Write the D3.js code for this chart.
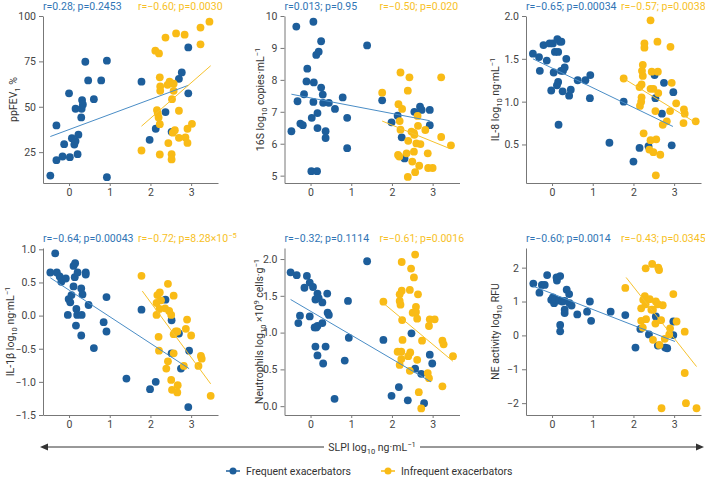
<!DOCTYPE html>
<html>
<head>
<meta charset="utf-8">
<script src="https://cdn.jsdelivr.net/npm/d3@7"></script>
<style>
  body { margin: 0; background: #fff; }
  svg { display: block; font-family: Roboto, "Noto Sans", sans-serif; }
</style>
</head>
<body>
<div id="container"></div>
<script>
// values, x = SLPI log10 ng/mL

const groups = ["Frequent exacerbators", "Infrequent exacerbators"]

const fevFreq = [[-0.46,12.1],[-0.31,20.6],[-0.31,39.7],[-0.16,22.6],[-0.12,29.4],[0,57.4],[0.02,22.2],[0.07,32.7],[0.13,29.2],[0.16,31.1],[0.16,48.9],[0.21,23.9],[0.23,34.6],[0.30,44.1],[0.31,48.9],[0.32,53.7],[0.34,51.3],[0.40,74.8],[0.47,64.5],[0.61,54.2],[0.79,64.5],[0.93,11.2],[0.93,75.4],[1.78,63.8],[1.98,31.8],[2.13,37.9],[2.37,47.1],[2.52,36.2],[2.70,65.4],[2.77,68.9],[2.93,82.7],[2.93,57.4]]
const fevInfreq = [[1.78,25.9],[2.12,80.9],[2.21,79.4],[2.16,48.2],[2.18,46.3],[2.20,44.1],[2.23,40.4],[2.23,66.2],[2.24,61.2],[2.24,58.8],[2.23,23.7],[2.37,88.1],[2.42,62.1],[2.47,63.8],[2.44,30.0],[2.57,62.7],[2.57,58.8],[2.53,54.2],[2.52,23.9],[2.52,21.0],[2.55,35.7],[2.60,37.1],[2.63,90.4],[2.70,47.8],[2.70,32.9],[2.84,89.7],[2.86,33.1],[2.91,37.9],[2.91,30.1],[3.02,40.6],[3.23,93.6],[3.23,84.4],[3.45,96.9]]
const fevFit = [[[-0.46,33.6],[2.93,61.8]], [[1.78,39.3],[3.48,72.6]]]

const s16Freq = [[-0.47,6.39],[-0.35,9.67],[-0.32,7.33],[-0.25,6.63],[-0.19,6.58],[-0.16,7.55],[-0.08,8.35],[-0.10,7.95],[0.03,6.81],[0.07,9.82],[0.08,7.92],[0.07,7.31],[0.02,5.14],[0.16,5.14],[0.14,8.78],[0.20,8.88],[0.17,6.96],[0.17,6.49],[0.26,9.21],[0.26,7.76],[0.30,7.54],[0.31,7.28],[0.37,6.39],[0.37,6.18],[0.45,7.28],[0.60,7.09],[0.79,7.45],[0.90,6.81],[0.90,5.86],[1.39,9.08],[1.76,7.36],[1.99,6.67],[2.14,6.88],[2.31,5.54],[2.24,6.20],[2.55,7.00],[2.69,7.16],[2.73,7.06],[2.93,7.06],[2.93,6.58]]
const s16Infreq = [[1.76,7.60],[2.21,8.23],[2.43,8.08],[2.39,7.66],[2.16,7.24],[2.25,7.09],[2.19,6.71],[2.21,6.44],[2.15,5.65],[2.18,5.60],[2.36,5.70],[2.40,6.09],[2.48,6.38],[2.54,6.34],[2.55,6.28],[2.63,6.87],[2.64,6.56],[2.60,6.01],[2.70,5.99],[2.54,5.75],[2.50,5.44],[2.57,5.11],[2.39,4.96],[2.67,5.31],[2.82,6.43],[2.88,5.70],[2.89,5.24],[3.00,5.24],[3.21,8.08],[3.21,6.21],[3.45,5.95]]
const s16Fit = [[[-0.47,7.55],[2.93,6.72]], [[1.76,6.71],[3.40,5.86]]]

const il8Freq = [[-0.47,1.56],[-0.32,1.52],[-0.30,1.36],[-0.21,1.66],[-0.13,1.48],[-0.06,1.68],[0.02,1.68],[-0.02,1.13],[0.04,1.34],[0.07,1.58],[0.13,1.73],[0.15,1.58],[0.20,1.70],[0.23,1.70],[0.15,1.23],[0.12,1.19],[0.16,0.73],[0.22,1.36],[0.27,1.36],[0.26,1.12],[0.31,1.40],[0.35,1.50],[0.42,1.07],[0.46,1.14],[0.63,1.25],[0.82,1.25],[0.94,1.31],[0.93,1.04],[1.41,0.52],[1.76,1.00],[2.00,0.30],[2.15,0.46],[2.37,0.48],[2.52,1.31],[2.54,1.04],[2.75,1.22],[2.70,0.86],[2.98,1.11],[2.94,0.49]]
const il8Infreq = [[1.76,1.27],[2.42,1.95],[2.27,1.68],[2.27,1.63],[2.59,1.70],[2.91,1.64],[2.23,1.43],[2.21,1.36],[2.23,1.30],[2.45,1.35],[2.60,1.35],[2.15,1.17],[2.20,1.20],[2.20,1.05],[2.19,1.00],[2.16,0.95],[2.42,1.15],[2.49,1.15],[2.61,1.10],[2.94,1.22],[2.54,0.89],[2.90,0.89],[3.05,0.98],[3.24,0.91],[3.26,0.86],[3.23,0.75],[3.53,0.77],[2.72,0.73],[2.82,0.77],[2.25,0.63],[2.42,0.55],[2.56,0.56],[2.39,0.44],[2.49,0.41],[2.66,0.38],[2.55,0.14]]
const il8Fit = [[[-0.47,1.50],[2.97,0.71]], [[1.76,1.27],[3.51,0.76]]]

const il1Freq = [[-0.46,0.65],[-0.34,0.94],[-0.30,0.65],[-0.23,0.59],[-0.19,0.51],[-0.08,0.56],[-0.03,0.01],[-0.01,0.25],[0.03,0.20],[0.06,0.31],[0.11,0.44],[0.11,0.75],[0.15,0.79],[0.14,0.58],[0.18,0.10],[0.20,0.01],[0.17,-0.15],[0.21,0.65],[0.30,0.41],[0.33,0.32],[0.31,0.01],[0.30,-0.30],[0.41,0.65],[0.41,0.62],[0.48,0.16],[0.61,-0.49],[0.85,-0.10],[0.92,0.28],[0.92,-0.24],[1.41,-0.95],[1.78,0.09],[1.99,-1.11],[2.13,-1.00],[2.37,0.24],[2.52,-0.07],[2.52,-0.57],[2.70,-0.27],[2.75,-0.80],[2.95,-0.53],[2.93,-1.38]]
const il1Infreq = [[1.78,0.60],[2.17,0.31],[2.23,0.35],[2.15,0.19],[2.26,0.23],[2.15,0.01],[2.22,0.10],[2.36,0.11],[2.43,0.48],[2.46,0.07],[2.51,0.01],[2.57,0.30],[2.20,-0.32],[2.21,-0.53],[2.43,-0.69],[2.39,-0.80],[2.51,-0.97],[2.53,-1.12],[2.57,-0.57],[2.57,-0.28],[2.62,-0.24],[2.66,-0.24],[2.67,-1.05],[2.66,-1.16],[2.87,-0.20],[2.90,-0.06],[3.00,-0.30],[2.82,-0.76],[3.18,-0.76],[3.24,-0.61],[3.26,-0.65],[3.48,-1.21]]
const il1Fit = [[[-0.46,0.57],[2.95,-0.80]], [[1.80,0.37],[3.48,-1.03]]]

const neuFreq = [[-0.49,1.82],[-0.34,1.78],[-0.26,1.23],[-0.30,1.13],[-0.15,1.61],[-0.09,1.77],[-0.02,1.68],[-0.02,1.22],[0.06,1.62],[0.10,1.07],[0.14,1.07],[0.17,1.09],[0.12,1.45],[0.17,1.53],[0.20,1.47],[0.12,0.81],[0.17,0.69],[0.29,1.41],[0.29,1.13],[0.31,0.58],[0.41,1.53],[0.42,1.27],[0.45,1.24],[0.37,0.81],[0.59,0.10],[0.84,0.62],[0.92,1.43],[0.94,0.93],[1.39,1.97],[1.79,0.90],[1.99,0.14],[2.17,0.26],[2.39,0.08],[2.48,0.99],[2.57,0.51],[2.72,0.44],[2.79,0.04],[2.93,0.70],[2.99,0.58]]
const neuInfreq = [[1.79,1.42],[2.24,1.96],[2.47,1.87],[2.57,2.06],[2.54,1.75],[2.24,1.57],[2.19,1.52],[2.44,1.58],[2.64,1.52],[2.19,1.43],[2.21,1.38],[2.59,1.35],[2.51,1.27],[2.59,1.28],[2.25,1.17],[2.62,1.19],[2.91,1.09],[2.93,1.18],[3.05,1.18],[2.26,0.90],[2.74,0.89],[2.14,0.74],[2.23,0.74],[2.45,0.73],[2.40,0.68],[2.23,0.64],[2.62,0.63],[2.19,0.56],[2.44,0.48],[2.88,0.45],[2.91,0.38],[3.24,0.89],[3.27,0.84],[3.50,0.68],[3.24,0.27],[2.66,0.19],[2.72,-0.03]]
const neuFit = [[[-0.49,1.45],[2.96,0.33]], [[1.79,1.40],[3.50,0.61]]]

const neFreq = [[-0.46,1.53],[-0.31,1.26],[-0.25,1.49],[-0.18,1.49],[-0.12,1.78],[-0.02,1.05],[0.02,1.12],[0.05,0.95],[0.08,1.06],[0.11,1.71],[0.12,1.62],[0.20,1.75],[0.17,1.03],[0.25,1.00],[0.20,0.31],[0.20,0.12],[0.31,1.02],[0.31,0.76],[0.31,0.66],[0.36,1.35],[0.42,1.22],[0.43,0.95],[0.48,0.88],[0.62,0.62],[0.86,0.70],[0.93,1.00],[0.96,0.43],[1.44,0.70],[1.80,0.60],[2.05,-0.36],[2.17,0.19],[2.38,0.03],[2.55,0.56],[2.60,-0.30],[2.78,-0.36],[2.83,-0.38],[2.98,0.41],[2.98,0.01]]
const neInfreq = [[1.80,1.40],[2.30,1.98],[2.46,2.11],[2.61,2.00],[2.63,1.93],[2.98,1.22],[2.28,1.16],[2.24,1.05],[2.40,1.07],[2.30,0.92],[2.55,1.00],[2.60,0.92],[2.44,0.76],[2.48,0.76],[2.72,0.89],[2.19,0.80],[2.19,0.43],[2.31,0.48],[2.54,0.35],[2.68,0.45],[3.06,0.41],[2.23,0.23],[2.90,0.21],[2.88,0.03],[2.48,-0.13],[2.77,-0.10],[2.64,-0.28],[3.26,0.11],[3.26,-1.11],[2.69,-2.15],[3.29,-2.00],[3.55,-2.15]]
const neFit = [[[-0.46,1.45],[3.02,-0.18]], [[1.82,1.71],[3.55,-0.92]]]

const stats = [
  ["r=0.28; p=0.2453", "r=\u22120.60; p=0.0030"],
  ["r=0.013; p=0.95", "r=\u22120.50; p=0.020"],
  ["r=\u22120.65; p=0.00034", "r=\u22120.57; p=0.0038"],
  ["r=\u22120.64; p=0.00043", ["r=\u22120.72; p=8.28\u00d710", ["sup", "\u22125"]]],
  ["r=\u22120.32; p=0.1114", "r=\u22120.61; p=0.0016"],
  ["r=\u22120.60; p=0.0014", "r=\u22120.43; p=0.0345"]
]

const yLabels = [
  ["ppFEV", ["sub", "1"], " %"],
  ["16S log", ["sub", "10"], " copies\u00b7mL", ["sup", "\u22121"]],
  ["IL-8 log", ["sub", "10"], " ng\u00b7mL", ["sup", "\u22121"]],
  ["IL-1\u03b2 log", ["sub", "10"], " ng\u00b7mL", ["sup", "\u22121"]],
  ["Neutrophils log", ["sub", "10"], " \u00d710", ["sup", "9"], " cells\u00b7g", ["sup", "\u22121"]],
  ["NE activity log", ["sub", "10"], " RFU"]
]

const yDomains = [[8, 100], [4.77, 10], [0.05, 2.0], [-1.5, 1.02], [-0.12, 2.15], [-2.35, 2.58]]
const yTicks = [[25, 50, 75, 100], [5, 6, 7, 8, 9, 10], [0.5, 1.0, 1.5, 2.0], [-1.5, -1.0, -0.5, 0.0, 0.5, 1.0], [0.0, 0.5, 1.0, 1.5, 2.0], [-2, -1, 0, 1, 2]]
const yFormats = ["d", "d", ".1f", ".1f", ".1f", "d"]
const xDomain = [-0.64, 3.66]
const xTicks = [0, 1, 2, 3]
const xTitle = ["SLPI log", ["sub", "10"], " ng\u00b7mL", ["sup", "\u22121"]]

const series = [
  [fevFreq, fevInfreq, fevFit],
  [s16Freq, s16Infreq, s16Fit],
  [il8Freq, il8Infreq, il8Fit],
  [il1Freq, il1Infreq, il1Fit],
  [neuFreq, neuInfreq, neuFit],
  [neFreq, neInfreq, neFit]
]

const dotColor = ["#1d5e9b", "#f9bb16"]
const fitColor = ["#4a8dc6", "#f6c22e"]
const textColor = ["#2f74b5", "#f7bf26"]

const W = 705, H = 480
const pw = 175, ph = 167
const colX = [43, 284.5, 526]
const rowY = [16, 248]
const labelOff = [-30, -24, -31, -33, -25, -31]

// sub/superscripts via small baseline shifts (px, positive = up)
function rich(sel, parts) {
  if (typeof parts === "string") parts = [parts]
  parts.forEach(p => {
    if (typeof p === "string") sel.append("tspan").text(p)
    else sel.append("tspan")
      .attr("baseline-shift", p[0] === "sub" ? -2.5 : 4)
      .attr("font-size", "0.72em")
      .text(p[1])
  })
  return sel
}

let svg = d3.select("#container").append("svg")
  .attr("width", W)
  .attr("height", H)

series.forEach((s, i) => {
  let g = svg.append("g")
    .attr("transform", `translate(${colX[i % 3]}, ${rowY[Math.floor(i / 3)]})`)

  let x = d3.scaleLinear().domain(xDomain).range([0, pw])
  let y = d3.scaleLinear().domain(yDomains[i]).range([ph, 0])

  let xa = g.append("g")
    .attr("transform", `translate(0, ${ph})`)
    .call(d3.axisBottom(x).tickValues(xTicks).tickFormat(d3.format("d")).tickSize(3).tickPadding(3).tickSizeOuter(0))
  let ya = g.append("g")
    .call(d3.axisLeft(y).tickValues(yTicks[i]).tickFormat(d3.format(yFormats[i])).tickSize(4).tickPadding(3).tickSizeOuter(0))

  ;[xa, ya].forEach(a => {
    a.select(".domain").attr("stroke", "#777")
    a.selectAll(".tick line").attr("stroke", "#777")
    a.selectAll("text").attr("fill", "#444").attr("font-size", 10.5).attr("font-family", "Roboto, sans-serif")
  })

  rich(g.append("text")
    .attr("transform", `translate(${labelOff[i]}, ${ph / 2}) rotate(-90)`)
    .attr("text-anchor", "middle")
    .attr("dy", "0.35em")
    .attr("font-size", 10.5)
    .attr("fill", "#333"), yLabels[i])

  ;[0, 1].forEach(k => {
    g.append("g").selectAll("circle")
      .data(s[k])
      .join("circle")
      .attr("cx", d => x(d[0]))
      .attr("cy", d => y(d[1]))
      .attr("r", 3.9)
      .attr("fill", dotColor[k])
  })

  ;[0, 1].forEach(k => {
    g.append("path")
      .datum(s[2][k])
      .attr("d", d3.line().x(d => x(d[0])).y(d => y(d[1])))
      .attr("stroke", fitColor[k])
      .attr("stroke-width", 1)
      .attr("fill", "none")

    rich(g.append("text")
      .attr("x", k === 0 ? 0 : 95)
      .attr("y", -6)
      .attr("font-size", 10.5)
      .attr("fill", textColor[k]), stats[i][k])
  })
})

// shared x title with double arrow
let ay = 447
svg.append("line")
  .attr("x1", 46).attr("x2", 699)
  .attr("y1", ay).attr("y2", ay)
  .attr("stroke", "#333")
  .attr("stroke-width", 1)
svg.append("path")
  .attr("d", `M40,${ay} L48,${ay - 3.5} L48,${ay + 3.5} Z M704,${ay} L696,${ay - 3.5} L696,${ay + 3.5} Z`)
  .attr("fill", "#333")
svg.append("rect")
  .attr("x", 324).attr("y", ay - 8)
  .attr("width", 96).attr("height", 16)
  .attr("fill", "#fff")
rich(svg.append("text")
  .attr("x", 372).attr("y", ay)
  .attr("dy", "0.35em")
  .attr("text-anchor", "middle")
  .attr("font-size", 10.5)
  .attr("fill", "#333"), xTitle)

// legend
let lx = [233, 388]
groups.forEach((name, k) => {
  let lg = svg.append("g").attr("transform", `translate(${lx[k]}, 471)`)
  lg.append("line").attr("x1", -7).attr("x2", 7).attr("stroke", dotColor[k]).attr("stroke-width", 1.5)
  lg.append("circle").attr("r", 3.5).attr("fill", dotColor[k])
  lg.append("text")
    .attr("x", 13).attr("dy", "0.35em")
    .attr("font-size", 10.5)
    .attr("fill", "#333")
    .text(name)
})
</script>
</body>
</html>
